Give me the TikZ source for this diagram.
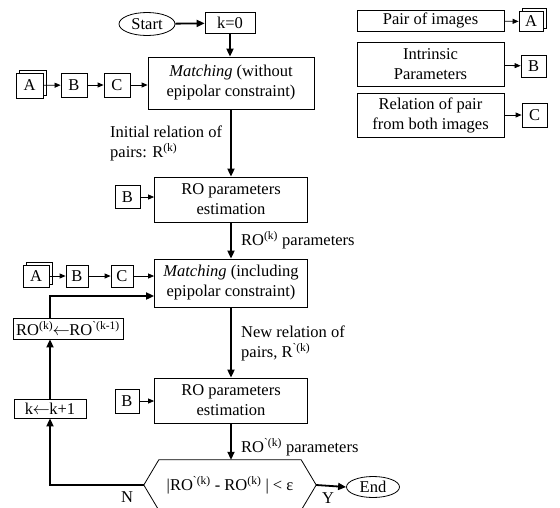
\documentclass[tikz,border=0pt]{standalone}
\usepackage{fontspec}
\setmainfont{Liberation Serif}[Ligatures=TeXOff]
\usetikzlibrary{arrows.meta, positioning, shapes.geometric, shadows}

\newcommand{\supk}{\textsuperscript{(k)}}
\newcommand{\supgk}{\textsuperscript{`(k)}}
\newcommand{\getsarrow}{\kern-0.5pt$\leftarrow$\kern-0.5pt}

\begin{document}
\begin{tikzpicture}[x=1pt, y=-1pt, font=\fontsize{16.5}{20}\selectfont,
  box/.style={draw, line width=0.8pt, inner sep=2pt, align=center},
  letter/.style={box, minimum width=26pt, minimum height=24pt},
  small letter/.style={box, minimum width=22pt, minimum height=22pt},
  imgs/.style={box, fill=white, copy shadow={shadow xshift=3pt, shadow yshift=3pt, line width=0.8pt}},
  term/.style={draw, ellipse, line width=0.8pt, inner sep=1pt},
  flow/.style={-{Triangle[length=8pt, width=7pt]}, line width=1.8pt},
  feed/.style={-{Triangle[length=6pt, width=5pt]}, line width=0.8pt},
  lbl/.style={align=left, inner sep=0pt}]
  \useasboundingbox (0,0) rectangle (560,507);

  % start and first matching
  \node[term, minimum width=56pt, minimum height=23pt] (start) at (147,24) {Start};
  \node[box, minimum width=50pt, minimum height=21pt] (k0) at (230,23) {k=0};
  \node[box, minimum width=166pt, minimum height=52pt] (m1) at (231,83) {\textit{Matching} (without\\epipolar constraint)};
  \node[imgs, minimum width=27pt, minimum height=25pt] (a1) at (29.5,85.5) {A};
  \node[letter] (b1) at (74,85) {B};
  \node[letter] (c1) at (117,85) {C};

  % legend
  \node[box, minimum width=147pt, minimum height=21pt] (lpair) at (430.5,20.5) {Pair of images};
  \node[box, minimum width=147pt, minimum height=44pt] (lintr) at (430.5,64) {Intrinsic\\Parameters};
  \node[box, minimum width=147pt, minimum height=44pt] (lrel) at (430.5,115) {Relation of pair\\from both images};
  \node[imgs, minimum width=24pt, minimum height=20pt] (la) at (531,21.5) {A};
  \node[box, minimum width=25pt, minimum height=22pt] (lb) at (533.5,66) {B};
  \node[box, minimum width=25pt, minimum height=24pt] (lc) at (534.5,115) {C};

  % first estimation
  \node[box, minimum width=153pt, minimum height=45pt] (ro1) at (231,199.5) {RO parameters\\estimation};
  \node[box, minimum width=25pt, minimum height=23pt] (b3) at (127.5,197) {B};

  % second matching
  \node[box, minimum width=153pt, minimum height=48pt] (m2) at (231,283) {\textit{Matching} (including\\epipolar constraint)};
  \node[imgs, minimum width=26pt, minimum height=22pt] (a2) at (36,276) {A};
  \node[small letter] (b2) at (77,276) {B};
  \node[small letter] (c2) at (122,276) {C};

  % second estimation
  \node[box, minimum width=153pt, minimum height=45pt] (ro2) at (231,400.5) {RO parameters\\estimation};
  \node[box, minimum width=24pt, minimum height=24pt] (b4) at (127,401) {B};

  % loop boxes
  \node[box, inner sep=1pt, minimum width=110pt, minimum height=21pt] (fb) at (68,328.5) {RO\supk\getsarrow RO\textsuperscript{`(k-1)}};
  \node[box, minimum width=72pt, minimum height=19pt] (kinc) at (50,408.5) {k\getsarrow k+1};

  % decision and end
  \node[minimum width=172pt, minimum height=50pt, inner sep=0pt] (dec) at (230,485) {|RO\supgk{} - RO\supk{} | < ε};
  \draw[line width=0.8pt] (dec.west) -- ([xshift=15pt]dec.north west) -- ([xshift=-15pt]dec.north east)
    -- (dec.east) -- ([xshift=-15pt]dec.south east) -- ([xshift=15pt]dec.south west) -- cycle;
  \node[term, minimum width=53pt, minimum height=21pt] (end) at (373,487) {End};

  % connectors
  \draw[flow] (start) -- (k0);
  \draw[flow] (k0) -- (k0 |- m1.north);
  \draw[feed] (a1) -- (b1);
  \draw[feed] (b1) -- (c1);
  \draw[feed] (c1) -- (c1 -| m1.west);
  \draw[feed] (lpair) -- (la);
  \draw[feed] (lintr) -- (lb);
  \draw[feed] (lrel) -- (lc);
  \draw[flow] (m1) -- (ro1);
  \draw[feed] (b3) -- (b3 -| ro1.west);
  \draw[flow] (ro1) -- (m2);
  \draw[feed] (a2) -- (b2);
  \draw[feed] (b2) -- (c2);
  \draw[feed] (c2) -- (c2 -| m2.west);
  \draw[flow] (m2) -- (ro2);
  \draw[feed] (b4) -- (b4 -| ro2.west);
  \draw[flow] (ro2) -- (dec.north -| ro2);
  \draw[flow] (dec.west) -| (kinc.south);
  \draw[flow] (kinc.north) -- (kinc.north |- fb.south);
  \draw[flow] (kinc.north |- fb.north) |- ([yshift=-13pt]m2.west);
  \draw[flow] (dec.east) -- (end.west);

  % labels
  \node[lbl, anchor=north west] (lbinit) at (110,126) {Initial relation of\\pairs: R\supk};
  \node[lbl, anchor=west] (lbro1) at (241,240) {RO\supk{} parameters};
  \node[lbl, anchor=north west] (lbnew) at (241,326) {New relation of\\pairs, R\supgk};
  \node[lbl, anchor=west] (lbro2) at (241,447) {RO\supgk{} parameters};
  \node[inner sep=0pt] (lbn) at (127,497) {N};
  \node[inner sep=0pt] (lby) at (328,498) {Y};
\end{tikzpicture}
\end{document}
